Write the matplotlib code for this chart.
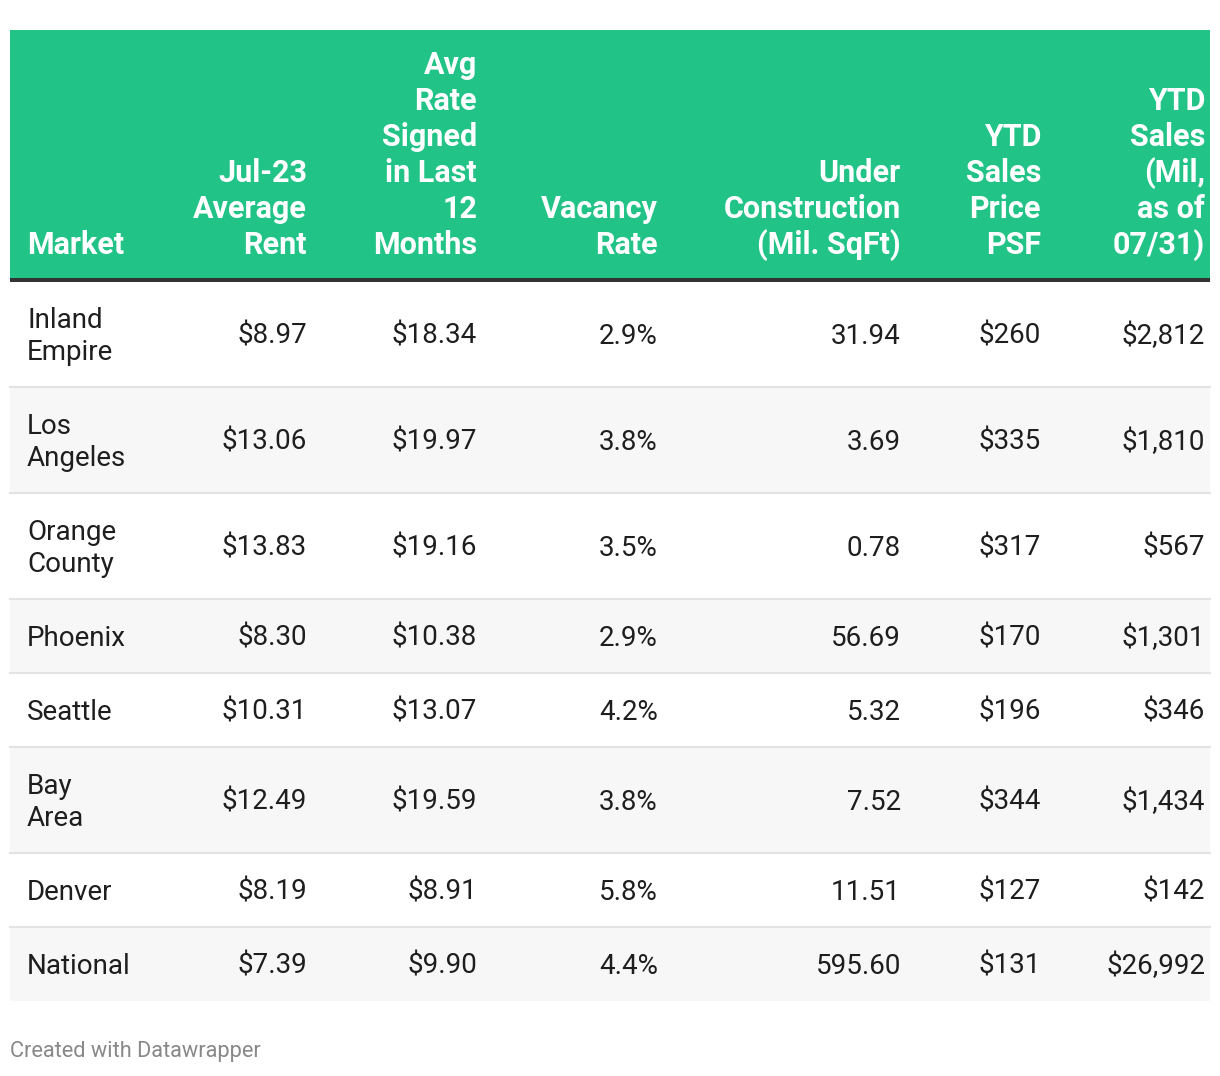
import matplotlib
matplotlib.use("Agg")
import matplotlib.pyplot as plt
from matplotlib.patches import Rectangle

plt.rcParams['font.family'] = ['Roboto', 'DejaVu Sans']

headers = ["Market", "Jul-23\nAverage\nRent", "Avg\nRate\nSigned\nin Last\n12\nMonths",
           "Vacancy\nRate", "Under\nConstruction\n(Mil. SqFt)", "YTD\nSales\nPrice\nPSF",
           "YTD\nSales\n(Mil,\nas of\n07/31)"]
markets = ["Inland\nEmpire", "Los\nAngeles", "Orange\nCounty", "Phoenix", "Seattle",
           "Bay\nArea", "Denver", "National"]
avg_rent = [8.97, 13.06, 13.83, 8.30, 10.31, 12.49, 8.19, 7.39]
rate_signed = [18.34, 19.97, 19.16, 10.38, 13.07, 19.59, 8.91, 9.90]
vacancy = [2.9, 3.8, 3.5, 2.9, 4.2, 3.8, 5.8, 4.4]
under_constr = [31.94, 3.69, 0.78, 56.69, 5.32, 7.52, 11.51, 595.60]
sales_psf = [260, 335, 317, 170, 196, 344, 127, 131]
sales_mil = [2812, 1810, 567, 1301, 346, 1434, 142, 26992]

GREEN = "#21c386"
TXT = "#1e1e1e"
FS = 20
HFS = 22

# column anchors: first is left-aligned, others right-aligned
col_x = [27, 307, 477, 658, 901, 1041, 1205]
LEFT, RIGHT = 10, 1210

fig = plt.figure(figsize=(12.2, 10.76), dpi=100)
ax = fig.add_axes([0, 0, 1, 1])
ax.set_xlim(0, 1220)
ax.set_ylim(1076, 0)
ax.axis('off')

# header
ax.add_patch(Rectangle((LEFT, 30), RIGHT - LEFT, 248, color=GREEN, lw=0))
ax.add_patch(Rectangle((LEFT, 278), RIGHT - LEFT, 3.5, color="#333333", lw=0))
for i, h in enumerate(headers):
    lines = h.split("\n")
    for k, line in enumerate(reversed(lines)):
        ax.text(col_x[i], 254 - 36 * k, line, ha='left' if i == 0 else 'right',
                va='baseline', fontsize=HFS, fontweight='bold', color='white')

# body
rows = []
for j in range(len(markets)):
    rows.append([markets[j], f"${avg_rent[j]:.2f}", f"${rate_signed[j]:.2f}",
                 f"{vacancy[j]:.1f}%", f"{under_constr[j]:.2f}",
                 f"${sales_psf[j]}", f"${sales_mil[j]:,}"])

y = 281
for j, row in enumerate(rows):
    n = row[0].count("\n") + 1
    hgt = 42 + 32 * n
    if j % 2 == 1:
        ax.add_patch(Rectangle((LEFT, y), RIGHT - LEFT, hgt, color="#f7f7f7", lw=0))
    if j < len(rows) - 1:
        ax.plot([LEFT, RIGHT], [y + hgt, y + hgt], color="#e3e3e3", lw=1.5)
    yc = y + hgt / 2
    lines = row[0].split("\n")
    for k, line in enumerate(lines):
        ly = yc + (k - (len(lines) - 1) / 2) * 32
        ax.text(col_x[0], ly + 10, line, ha='left', va='baseline', fontsize=FS, color=TXT)
    for i in range(1, 7):
        ax.text(col_x[i], yc + 10, row[i], ha='right', va='baseline', fontsize=FS, color=TXT)
    y += hgt

ax.text(10, 1052, "Created with Datawrapper", ha='left', va='center', fontsize=15.7, color="#888888")

fig.savefig("out.png", dpi=100, facecolor='white')
